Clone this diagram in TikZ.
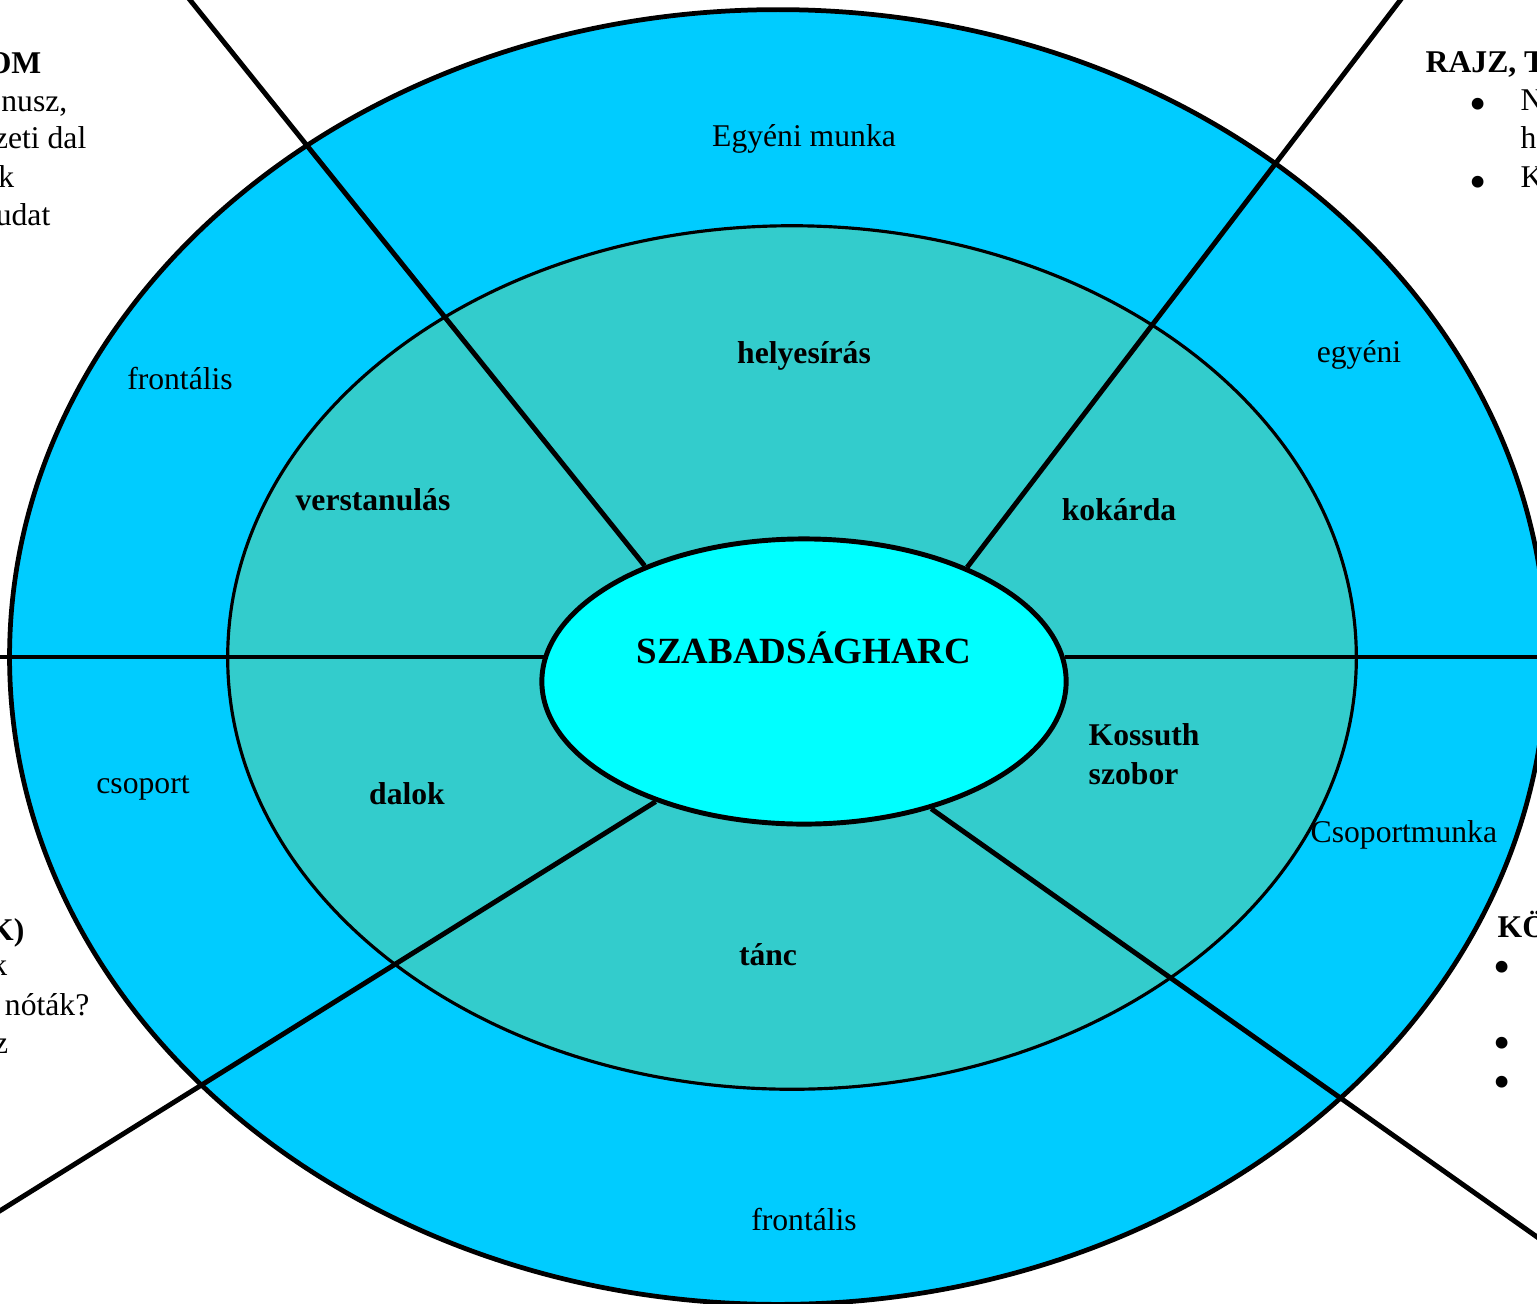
\documentclass[tikz,border=0pt]{standalone}
\usepackage{fontspec}
\setmainfont{Liberation Serif}
\usepackage{xcolor}
\usetikzlibrary{shapes.geometric}
\definecolor{ringblue}{RGB}{0,204,255}
\definecolor{innerteal}{RGB}{51,204,204}
\definecolor{hubcyan}{RGB}{0,255,255}

\begin{document}
\begin{tikzpicture}[x=0.01cm, y=-0.01cm,
	every node/.style={font=\fontsize{9pt}{11pt}\selectfont, inner sep=0pt},
	topic/.style={font=\fontsize{9pt}{11pt}\selectfont\bfseries},
	dot/.style={font=\fontsize{14pt}{14pt}\selectfont}]
	\useasboundingbox (0,0) rectangle (1537,1303);
	\clip (0,0) rectangle (1537,1303);
	\draw[line width=1.35pt, fill=ringblue] (778,657) ellipse [x radius=7.68cm, y radius=6.47cm];
	\draw[line width=0.9pt, fill=innerteal] (792,657.5) ellipse [x radius=5.64cm, y radius=4.315cm];
	\node[draw, line width=1.4pt, fill=hubcyan, ellipse, minimum width=5.24cm, minimum height=2.85cm] (hub) at (804,681.5) {};
	\coordinate (tl) at (182,-10);
	\coordinate (tr) at (1408,-10);
	\coordinate (l) at (-10,657);
	\coordinate (r) at (1547,657);
	\coordinate (bl) at (-10,1217);
	\coordinate (br) at (1547,1244);
	\draw[line width=1.4pt] (hub.144.1) -- (tl);
	\draw[line width=1.4pt] (hub.35.8) -- (tr);
	\draw[line width=1.4pt] (hub.174.6 |- l) -- (l);
	\draw[line width=1.4pt] (hub.5.4 |- r) -- (r);
	\draw[line width=1.4pt] (hub.219.5) -- (bl);
	\draw[line width=1.4pt] (hub.315.6) -- (br);
	% ring labels
	\node (egyeni) at (804,139) {Egyéni munka};
	\node (egyeni2) at (1359,355) {egyéni};
	\node (front1) at (180,379) {frontális};
	\node (csop) at (143,788) {csoport};
	\node[anchor=base west] (csopm) at (1310,842) {Csoportmunka};
	\node (front2) at (804,1219) {frontális};
	% inner labels
	\node[topic] (helyes) at (804,356) {helyesírás};
	\node[topic] (vers) at (373,500) {verstanulás};
	\node[topic] (kokarda) at (1119,510) {kokárda};
	\node[topic, align=left, anchor=north west] (kossuth) at (1088,723) {Kossuth\\szobor};
	\node[topic] (dalok) at (407,794) {dalok};
	\node[topic] (tanc) at (768,955) {tánc};
	\node[font=\fontsize{10.5pt}{12pt}\selectfont\bfseries] (title) at (804,648) {SZABADSÁGHARC};
	% corners
	\node[topic, anchor=base east] (irod) at (42,73) {OM};
	\node[anchor=base east] (irod1) at (68,111) {nusz,};
	\node[anchor=base east] (irod2) at (87,148) {zeti dal};
	\node[anchor=base east] (irod3) at (15,187) {k};
	\node[anchor=base east] (irod4) at (51,225) {udat};
	\node[topic, anchor=base west] (rajz) at (1425,72) {RAJZ, T};
	\node[dot] (rajzb1) at (1478,109) {\textbullet};
	\node[anchor=base west] (rajz1) at (1520,110) {N};
	\node[anchor=base west] (rajz2) at (1520,148) {h};
	\node[dot] (rajzb2) at (1478,187) {\textbullet};
	\node[anchor=base west] (rajz3) at (1520,187) {K};
	\node[topic, anchor=base east] (enek) at (25,940) {K)};
	\node[anchor=base east] (enek1) at (8,975) {k};
	\node[anchor=base east] (enek2) at (90,1015) {nóták?};
	\node[anchor=base east] (enek3) at (9,1053) {z};
	\node[topic, anchor=base west] (korny) at (1497,937) {KÖ};
	\node[dot] (kornyb1) at (1502,972) {\textbullet};
	\node[dot] (kornyb2) at (1502,1048) {\textbullet};
	\node[dot] (kornyb3) at (1502,1087) {\textbullet};
\end{tikzpicture}
\end{document}
